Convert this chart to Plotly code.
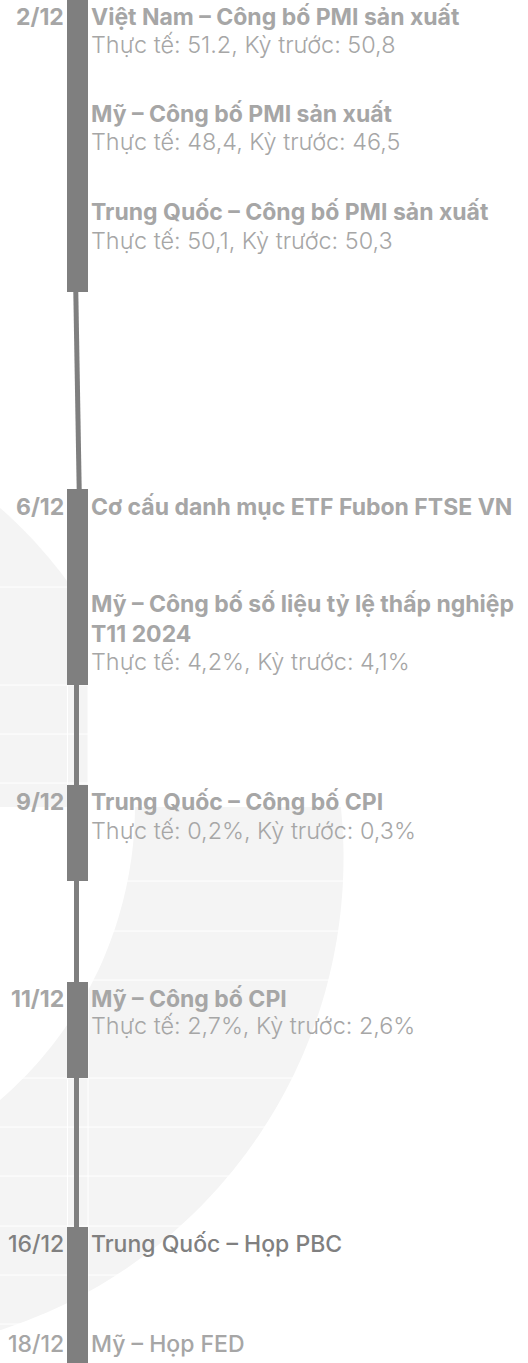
import numpy as np
import plotly.graph_objects as go

# ---------------- data ----------------
dates = ["2/12", "2/12", "2/12", "6/12", "6/12", "9/12", "11/12", "16/12", "18/12"]
titles = [
    "Việt Nam – Công bố PMI sản xuất",
    "Mỹ – Công bố PMI sản xuất",
    "Trung Quốc – Công bố PMI sản xuất",
    "Cơ cấu danh mục ETF Fubon FTSE VN",
    "Mỹ – Công bố số liệu tỷ lệ thấp nghiệp<br>T11 2024",
    "Trung Quốc – Công bố CPI",
    "Mỹ – Công bố CPI",
    "Trung Quốc – Họp PBC",
    "Mỹ – Họp FED",
]
actual = ["51.2", "48,4", "50,1", None, "4,2%", "0,2%", "2,7%", None, None]
previous = ["50,8", "46,5", "50,3", None, "4,1%", "0,3%", "2,6%", None, None]

# ---------------- layout (pixel positions) ----------------
W, H = 528, 1363
title_base = [25, 122, 220, 515, 613, 810, 1007, 1252, 1352]
body_base = [53, 150, 249, None, 670, 839, 1034, None, None]
seg_start = [0, 489, 785, 982, 1227]
seg_end = [292, 685, 881, 1078, 1363]
BAR_X, BAR_W = 77.5, 21
THIN_X, THIN_W = 76.5, 5
TEXT_X, DATE_X = 88.5, 66
grid_y = [587, 685, 734, 783, 881, 931, 980, 1078, 1127, 1176, 1226, 1275, 1324]

C_BAR = "#7f7f7f"
C_TXT = "#a6a6a6"
C_BG = "#f4f4f4"
FONT = "Inter"
FS_T = 23.0
FS_B = 23.4
DY = 8.5

fig = go.Figure()

# thick segments as bars
fig.add_trace(go.Bar(
    x=[BAR_X] * len(seg_start),
    base=seg_start,
    y=[e - s for s, e in zip(seg_start, seg_end)],
    width=BAR_W,
    marker=dict(color=C_BAR, line=dict(width=0)),
    hoverinfo="skip", showlegend=False,
))
# thin connectors
for i in range(len(seg_start) - 1):
    x0 = 75.8 if i == 0 else THIN_X
    x1 = 79.2 if i == 0 else THIN_X
    fig.add_trace(go.Scatter(
        x=[x0, x1], y=[seg_end[i], seg_start[i + 1]], mode="lines",
        line=dict(color=C_BAR, width=THIN_W), hoverinfo="skip", showlegend=False,
    ))

# ---------------- background decoration ----------------
def arc(cx, cy, r, y0, y1, n=60):
    ys = np.linspace(y0, y1, n)
    xs = cx + np.sqrt(np.maximum(r * r - (ys - cy) ** 2, 0))
    return xs, ys

# lower crescent
ox, oy = arc(-153, 858, 496.5, 807, 1330)
ix, iy = arc(-255, 805, 390, 807, 1100)
ix = np.maximum(ix, 0)
pts = list(zip(ox, oy)) + [(0, 1330), (0, 1100)] + list(zip(ix[::-1], iy[::-1]))
path = "M " + " L ".join(f"{x:.1f},{y:.1f}" for x, y in pts) + " Z"
fig.add_shape(type="path", path=path, fillcolor=C_BG, line=dict(width=0), layer="below")
# upper-left piece
xs = np.linspace(0, 88, 30)
ys = 850 - np.sqrt(455 ** 2 - (xs + 300) ** 2)
pts = list(zip(xs, ys)) + [(88, 807), (0, 807)]
path = "M " + " L ".join(f"{x:.1f},{y:.1f}" for x, y in pts) + " Z"
fig.add_shape(type="path", path=path, fillcolor=C_BG, line=dict(width=0), layer="below")
for gy in grid_y:
    fig.add_shape(type="line", x0=0, x1=W, y0=gy, y1=gy, line=dict(color="white", width=1), layer="below")
for gx in [67.5, 88]:
    fig.add_shape(type="line", x0=gx, x1=gx, y0=0, y1=H, line=dict(color="white", width=1), layer="below")

# ---------------- texts ----------------
prev_date = None
for i, d in enumerate(dates):
    strong = d == "16/12"
    col = "#808080" if strong else C_TXT
    wt = 500 if d in ("16/12", "18/12") else 700
    if d != prev_date:
        fig.add_annotation(x=DATE_X, y=title_base[i] - DY, text=d, showarrow=False,
                           xanchor="right", yanchor="middle",
                           font=dict(family=FONT, size=FS_T, color=col, weight=wt if wt == 500 else 700))
    prev_date = d
    nlines = titles[i].count("<br>")
    fig.add_annotation(x=TEXT_X, y=title_base[i] - DY + nlines * 14.5, text=titles[i], showarrow=False,
                       xanchor="left", yanchor="middle", align="left",
                       font=dict(family=FONT, size=FS_T, color=col, weight=wt))
    if actual[i] is not None:
        fig.add_annotation(x=TEXT_X, y=body_base[i] - DY,
                           text=f"Thực tế: {actual[i]}, Kỳ trước: {previous[i]}", showarrow=False,
                           xanchor="left", yanchor="middle",
                           font=dict(family=FONT, size=FS_B, color=C_TXT, weight=300))

fig.update_layout(
    width=W, height=H, margin=dict(l=0, r=0, t=0, b=0),
    paper_bgcolor="white", plot_bgcolor="white",
    xaxis=dict(range=[0, W], visible=False, fixedrange=True),
    yaxis=dict(range=[H, 0], visible=False, fixedrange=True),
    bargap=0, hovermode=False,
)
fig.write_html("out.html", config={"displayModeBar": False, "staticPlot": True},
               post_script="document.body.style.margin='0';document.body.style.overflow='hidden';")
